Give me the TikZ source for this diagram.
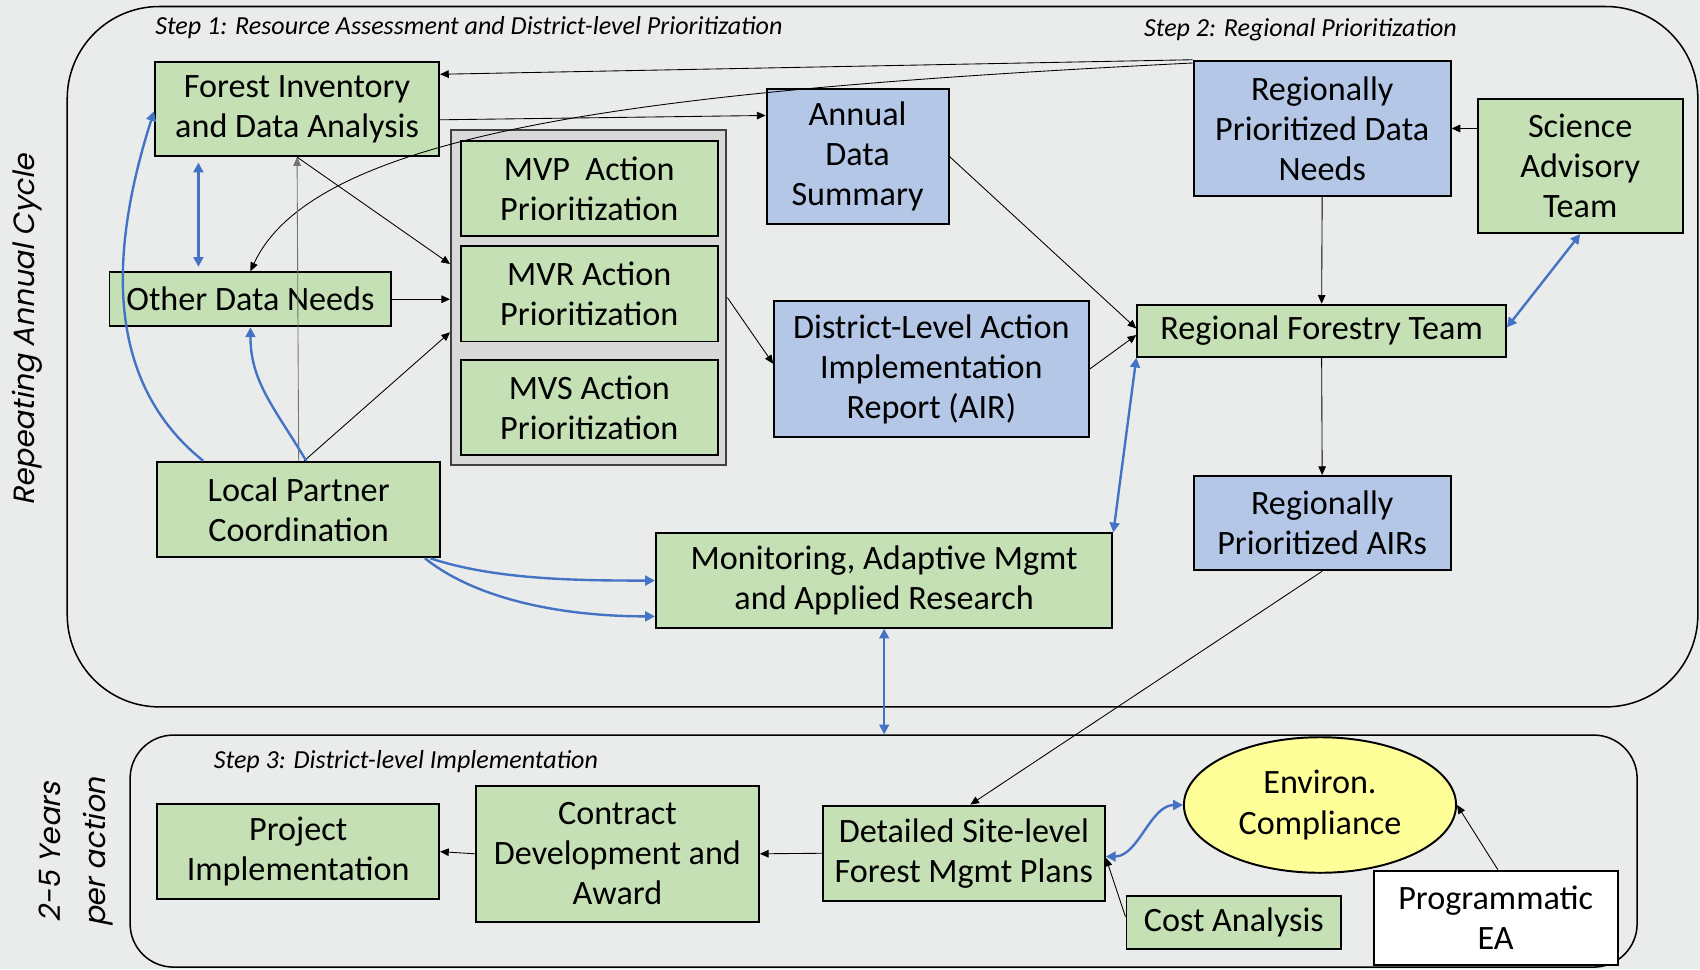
\documentclass[tikz,border=0pt]{standalone}
\usepackage{fontspec}
\setmainfont{Carlito}
\newfontfamily\gothicfont[FakeSlant=0.2]{Poppins}
\usetikzlibrary{arrows.meta,shapes.geometric}

\definecolor{boxgreen}{RGB}{197,224,180}
\definecolor{boxblue}{RGB}{180,199,231}
\definecolor{linkblue}{RGB}{68,114,196}
\definecolor{envyellow}{RGB}{255,255,153}
\definecolor{contgray}{RGB}{217,217,217}
\definecolor{backgray}{RGB}{233,236,234}

\begin{document}
\begin{tikzpicture}[x=1pt, y=-1pt,
  >={Triangle[length=8pt,width=7pt]},
  every node/.style={font=\fontsize{31.5}{37}\selectfont, align=center, inner sep=0pt},
  gbox/.style={draw, line width=1.8pt, fill=boxgreen},
  bbox/.style={draw, line width=1.8pt, fill=boxblue},
  link/.style={->, line width=0.8pt},
  bluelink/.style={draw=linkblue, line width=2.2pt, >={Triangle[length=9pt,width=9pt]}},
  steplabel/.style={font=\fontsize{24}{28}\selectfont\itshape, anchor=west},
  sidelabel/.style={font=\gothicfont\fontsize{27}{42}\selectfont, rotate=90}]
\fill[backgray] (0,0) rectangle (1568,894);
\useasboundingbox (0,0) rectangle (1568,894);

\node[draw, line width=1.4pt, rounded corners=85pt, minimum width=1504pt, minimum height=646pt] (annual) at (814,329) {};
\node[draw, line width=1.4pt, rounded corners=40pt, minimum width=1390pt, minimum height=214pt] (multiyear) at (815,785) {};

\node[sidelabel] (annuallabel) at (25,304) {Repeating Annual Cycle};
\node[sidelabel] (yearslabel) at (70,786) {2-5 Years\\per action};
\node[steplabel] (step1) at (143,25) {Step 1: Resource Assessment and District-level Prioritization};
\node[steplabel] (step2) at (1055,27) {Step 2: Regional Prioritization};
\node[steplabel] (step3) at (197,702) {Step 3: District-level Implementation};

\node[gbox, minimum width=262pt, minimum height=87pt] (fi) at (274,100.5) {Forest Inventory\\and Data Analysis};
\node[gbox, minimum width=260pt, minimum height=50pt] (odn) at (231,276) {Other Data Needs};
\node[gbox, minimum width=261pt, minimum height=88pt] (lpc) at (275.5,470) {Local Partner\\Coordination};
\node[draw=black!75, line width=1.8pt, fill=contgray, minimum width=254pt, minimum height=309pt] (prio) at (543,274.5) {};
\node[gbox, minimum width=237pt, minimum height=88pt] (mvp) at (543.5,174) {MVP~ Action\\Prioritization};
\node[gbox, minimum width=237pt, minimum height=88pt] (mvr) at (543.5,271) {MVR Action\\Prioritization};
\node[gbox, minimum width=237pt, minimum height=88pt] (mvs) at (543.5,376) {MVS Action\\Prioritization};
\node[bbox, minimum width=168pt, minimum height=125pt] (ads) at (791,144.5) {Annual\\Data\\Summary};
\node[bbox, minimum width=290pt, minimum height=125pt] (air) at (859,340.5) {District-Level Action\\Implementation\\Report (AIR)};
\node[bbox, minimum width=237pt, minimum height=125pt] (rpdn) at (1219.5,118.5) {Regionally\\Prioritized Data\\Needs};
\node[gbox, minimum width=189pt, minimum height=124pt] (sat) at (1457.5,153) {Science\\Advisory\\Team};
\node[gbox, minimum width=340pt, minimum height=48pt] (rft) at (1219,305) {Regional Forestry Team};
\node[bbox, minimum width=237pt, minimum height=87pt] (rpair) at (1219.5,482.5) {Regionally\\Prioritized AIRs};
\node[gbox, minimum width=421pt, minimum height=87pt] (mam) at (815.5,535.5) {Monitoring, Adaptive Mgmt\\and Applied Research};
\node[gbox, minimum width=260pt, minimum height=87pt] (pi) at (275,785.5) {Project\\Implementation};
\node[gbox, minimum width=261pt, minimum height=125pt] (cda) at (569.5,787.5) {Contract\\Development and\\Award};
\node[gbox, minimum width=260pt, minimum height=88pt] (dsl) at (889,787) {Detailed Site-level\\Forest Mgmt Plans};
\node[draw, ellipse, line width=1.8pt, fill=envyellow, minimum width=251pt, minimum height=125pt] (ec) at (1217.5,742.5) {Environ.\\Compliance};
\node[gbox, minimum width=198pt, minimum height=49pt] (ca) at (1138,850.5) {Cost Analysis};
\node[draw, line width=1.8pt, fill=white, minimum width=225pt, minimum height=87pt] (pea) at (1379.5,846.5) {Programmatic\\EA};

\draw[link] (rpdn.north west) -- ([yshift=32pt]fi.east);
\draw[link] ([yshift=-3pt]rpdn.north west) .. controls +(-500,25) and +(60,-130) .. (odn.north);
\draw[link] ([yshift=-10pt]fi.east) -- ([yshift=38pt]ads.west);
\draw[link] (fi.south) -- ([yshift=31pt]prio.west);
\draw[link] (odn.east) -- (prio.west |- odn.east);
\draw[link] ([xshift=5pt]lpc.north) -- ([yshift=-32pt]prio.west);
\draw[link, draw=black!55] (lpc.north) -- (fi.south);
\draw[link] (prio.east) -- ([yshift=5pt]air.west);
\draw[link] (ads.east) -- ([yshift=2pt]rft.west);
\draw[link] (air.east) -- ([yshift=-4pt]rft.west);
\draw[link] (rpdn.south) -- (rft.north);
\draw[link] (sat.west |- rpdn.east) -- (rpdn.east);
\draw[link] (rft.south) -- (rpair.north);
\draw[link] (rpair.south) -- ([xshift=6pt]dsl.north);
\draw[link] (dsl.west) -- (cda.east);
\draw[link] (cda.west) -- (pi.east);
\draw[link] ([yshift=5pt]ca.west) -- ([yshift=-4pt]dsl.east);
\draw[link] ([xshift=2pt]pea.north) -- (ec.east);

\draw[bluelink, ->] ([xshift=7pt]lpc.north) .. controls +(-30,-50) and +(0,50) .. (odn.south);
\draw[bluelink, ->] ([xshift=-88pt]lpc.north) .. controls +(-100,-80) and +(-35,110) .. ([yshift=-2pt]fi.west);
\draw[bluelink, <->] ([xshift=-91pt,yshift=-5pt]fi.south) -- ([xshift=-48pt,yshift=4pt]odn.north);
\draw[bluelink, <->] (sat.south) -- ([yshift=3pt]rft.east);
\draw[bluelink, <->] (mam.north east) -- (rft.south west);
\draw[bluelink, ->] ([xshift=-10pt]lpc.south east) .. controls +(60,20) and +(-70,0) .. (mam.west);
\draw[bluelink, ->] ([xshift=-15pt]lpc.south east) .. controls +(50,40) and +(-80,0) .. ([yshift=-33pt]mam.west);
\draw[bluelink, <->] (mam.south) -- (mam.south |- multiyear.north);
\draw[bluelink, <->] ([yshift=-3pt]dsl.east) .. controls +(30,0) and +(-30,0) .. (ec.west);
\end{tikzpicture}
\end{document}
